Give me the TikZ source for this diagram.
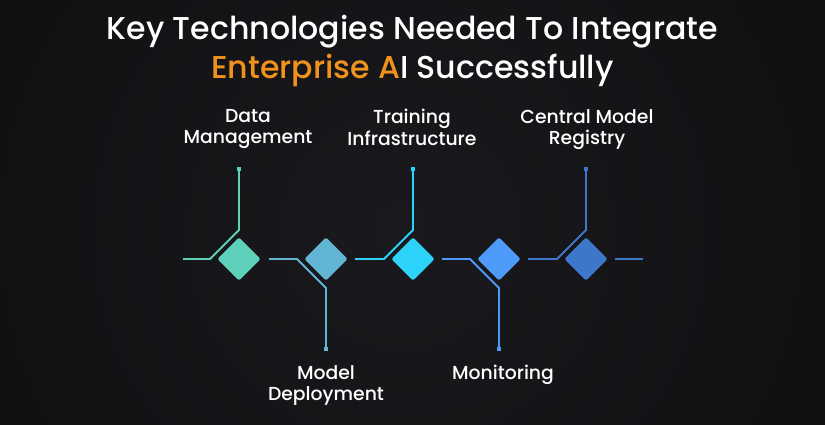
\documentclass[tikz,border=0pt]{standalone}
\usepackage{fontspec}
\setmainfont{Poppins}[UprightFont={* Medium}]
\usetikzlibrary{calc}
\definecolor{bgc}{HTML}{0B0B0D}
\definecolor{bgl}{HTML}{1A1A1E}
\definecolor{cA}{HTML}{5ECFB8}
\definecolor{cB}{HTML}{63B6D3}
\definecolor{cC}{HTML}{2CD2F8}
\definecolor{cD}{HTML}{4E9AF8}
\definecolor{cE}{HTML}{3C77C9}
\definecolor{orng}{HTML}{F0921C}
\tikzset{
  gem/.style={draw=none, fill=#1, shape=rectangle, rotate=45, minimum size=30.5pt, inner sep=0pt, rounded corners=2pt},
  wire/.style={draw=#1, line width=1.8pt},
  tip/.style={fill=#1, shape=rectangle, minimum size=4.5pt, inner sep=0pt},
  lbl/.style={text=white, font=\fontsize{18.8}{21.5}\selectfont, align=center, inner sep=0pt},
}
\begin{document}
\begin{tikzpicture}[x=1pt,y=-1pt]
\begin{scope}
\clip (0,0) rectangle (825,425);
\fill[bgc] (0,0) rectangle (825,425);
\shade[inner color=bgl, outer color=bgc] (400,230) circle (700);
\end{scope}
\useasboundingbox (0,0) rectangle (825,425);

% title
\node[anchor=north, text=white, font=\fontsize{31.6}{39}\selectfont, align=center, inner sep=0pt] (title) at (412.5,15)
  {Key Technologies Needed To Integrate\\{\color{orng}Enterprise A}I Successfully};

% diamonds
\node[gem=cA] (d1) at (239,259) {};
\node[gem=cB] (d2) at (326,259) {};
\node[gem=cC] (d3) at (413,259) {};
\node[gem=cD] (d4) at (499,259) {};
\node[gem=cE] (d5) at (586,259) {};

% tips
\node[tip=cA] (t1) at (239,169) {};
\node[tip=cB] (t2) at (326,349) {};
\node[tip=cC] (t3) at (413,169) {};
\node[tip=cD] (t4) at (499,349) {};
\node[tip=cE] (t5) at (586,169) {};

% wire coordinates
\coordinate (a0) at (183,259); \coordinate (a1) at (210,259); \coordinate (a2) at (239,230);
\coordinate (b0) at (269,259); \coordinate (b1) at (297,259); \coordinate (b2) at (326,288);
\coordinate (c0) at (355,259); \coordinate (c1) at (384,259); \coordinate (c2) at (413,230);
\coordinate (e0) at (442,259); \coordinate (e1) at (470,259); \coordinate (e2) at (499,288);
\coordinate (f0) at (528,259); \coordinate (f1) at (557,259); \coordinate (f2) at (586,230);
\coordinate (g0) at (615,259); \coordinate (g1) at (643,259);

\draw[wire=cA] (a0) -- (a1) -- (a2) -- (t1.center);
\draw[wire=cB] (b0) -- (b1) -- (b2) -- (t2.center);
\draw[wire=cC] (c0) -- (c1) -- (c2) -- (t3.center);
\draw[wire=cD] (e0) -- (e1) -- (e2) -- (t4.center);
\draw[wire=cE] (f0) -- (f1) -- (f2) -- (t5.center);
\draw[wire=cE] (g0) -- (g1);
\node[tip=cA] at (t1) {};
\node[tip=cB] at (t2) {};
\node[tip=cC] at (t3) {};
\node[tip=cD] at (t4) {};
\node[tip=cE] at (t5) {};

% labels
\node[lbl, anchor=north] (l1) at (248,109) {Data\\Management};
\node[lbl, anchor=north] (l3) at (412,109) {Training\\Infrastructure};
\node[lbl, anchor=north] (l5) at (587,109) {Central Model\\Registry};
\node[lbl, anchor=north] (l2) at (326,365) {Model\\Deployment};
\node[lbl, anchor=north] (l4) at (503,365) {Monitoring};
\end{tikzpicture}
\end{document}
